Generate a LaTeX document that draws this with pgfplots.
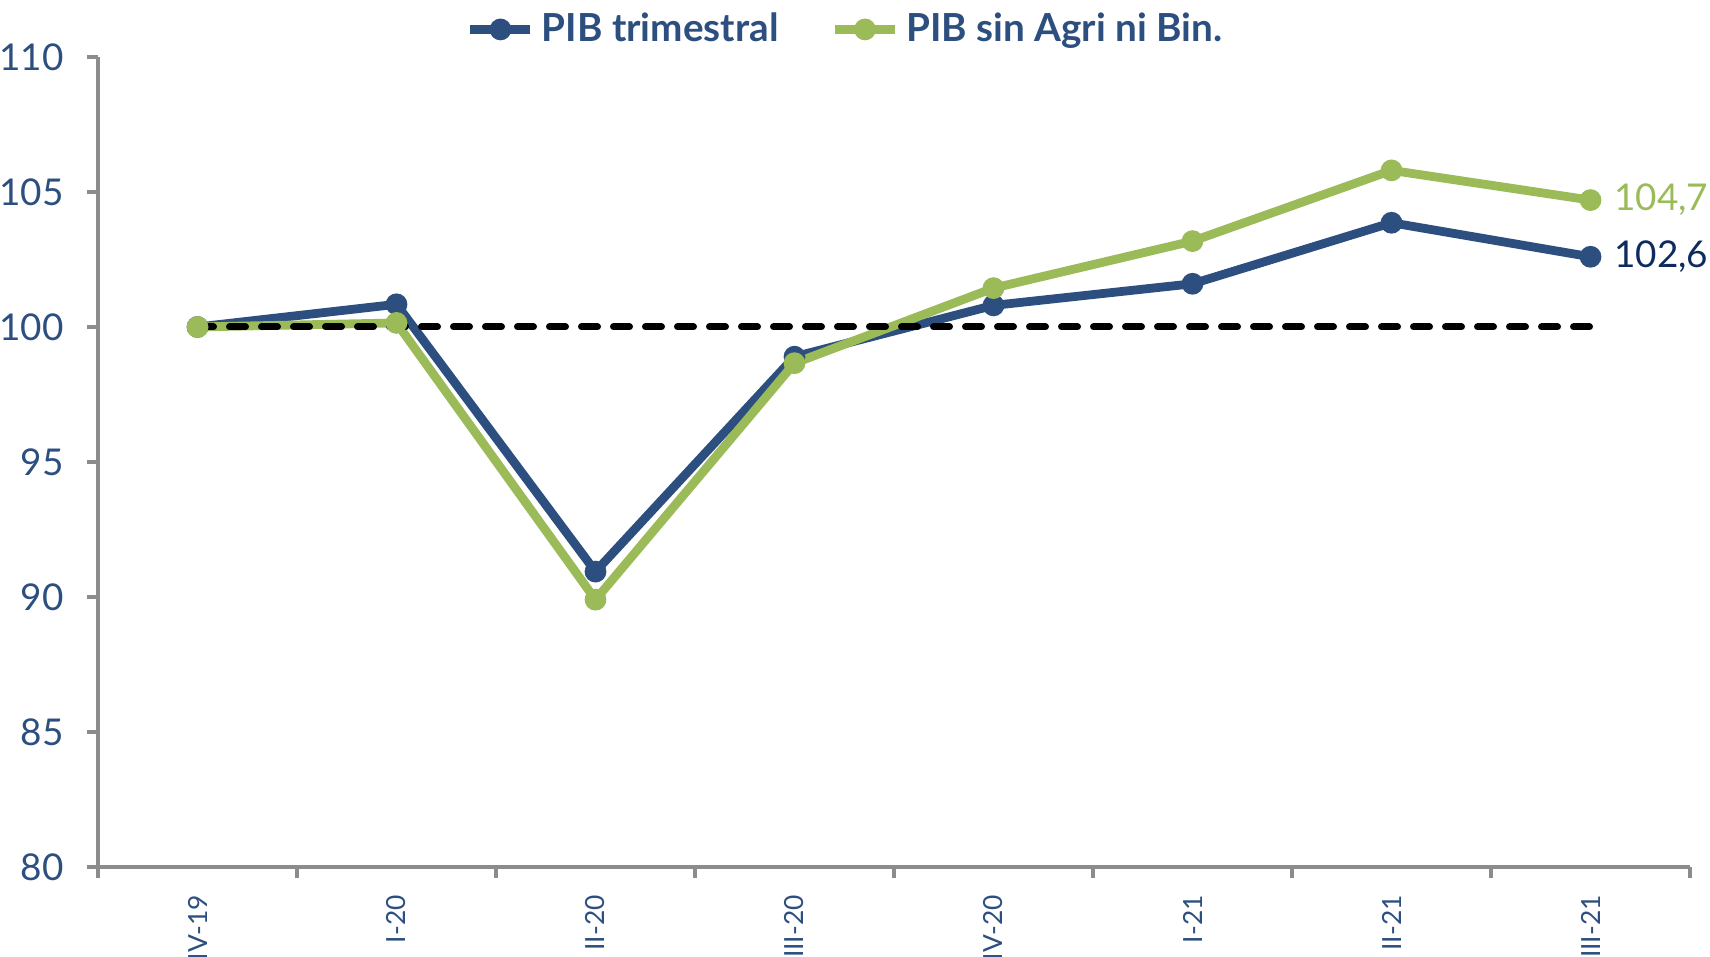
\documentclass[border=0pt]{standalone}
\usepackage{fontspec}
\setmainfont{Lato}
\usepackage{pgfplots}
\pgfplotsset{compat=1.18}

\definecolor{pibblue}{HTML}{2C4F7F}
\definecolor{pibgreen}{HTML}{9BBB59}
\definecolor{labnavy}{HTML}{0D2B5E}
\definecolor{axgray}{HTML}{8C8C8C}

\begin{document}
\begin{tikzpicture}
\begin{axis}[
    name=ax,
    scale only axis,
    width=159.2mm, height=81mm,
    xmin=-0.5, xmax=7.5,
    ymin=80, ymax=110,
    axis x line*=bottom,
    axis y line*=left,
    axis line style={axgray, line width=0.9pt, -},
    xtick={0,...,7},
    xticklabels={IV-19,I-20,II-20,III-20,IV-20,I-21,II-21,III-21},
    major x tick style={draw=none},
    minor xtick={-0.5,0.5,...,7.5},
    ytick={80,85,...,110},
    tick align=outside,
    major tick length=1.1mm,
    minor tick length=1.1mm,
    every tick/.style={axgray, line width=0.9pt},
    /pgf/number format/assume math mode=true,
    x tick label style={rotate=90, anchor=east, font=\fontsize{7.5}{8}\selectfont, text=pibblue},
    xticklabel shift=0.5mm,
    y tick label style={font=\fontsize{10.5}{11}\selectfont, text=pibblue},
    yticklabel shift=1.1mm,
    legend columns=2,
    legend style={draw=none, fill=none, at={(0.471,1.034)}, anchor=center,
        font=\fontsize{11}{12}\selectfont\bfseries, text=pibblue,
        /tikz/every even column/.style={column sep=4.5mm}},
    clip=false,
]
\addplot[pibblue, line width=2.5pt, mark=*, mark size=1mm,
    mark options={solid, fill=pibblue, draw=pibblue, line width=0.5pt}]
  coordinates {(0,100) (1,100.84) (2,90.94) (3,98.9) (4,100.8) (5,101.6) (6,103.86) (7,102.6)};
\addlegendentry{PIB trimestral}
\addplot[pibgreen, line width=2.5pt, mark=*, mark size=1mm,
    mark options={solid, fill=pibgreen, draw=pibgreen, line width=0.5pt}]
  coordinates {(0,100) (1,100.15) (2,89.9) (3,98.66) (4,101.44) (5,103.18) (6,105.8) (7,104.7)};
\addlegendentry{PIB sin Agri ni Bin.}
\addplot[black, line width=0.7mm, line cap=round, dash pattern=on 1.6mm off 1.6mm, forget plot]
  coordinates {(0,100) (7,100)};
\node[anchor=west, text=pibgreen, font=\fontsize{10.5}{12}\selectfont, inner sep=0pt, xshift=2.3mm]
  at (axis cs:7,104.7) {104,7};
\node[anchor=west, text=labnavy, font=\fontsize{10.5}{12}\selectfont, inner sep=0pt, xshift=2.3mm]
  at (axis cs:7,102.6) {102,6};
\end{axis}
\pgfresetboundingbox
\path ([xshift=-9.8mm,yshift=-9mm]ax.south west) rectangle ([xshift=2mm,yshift=5.7mm]ax.north east);
\end{tikzpicture}
\end{document}
